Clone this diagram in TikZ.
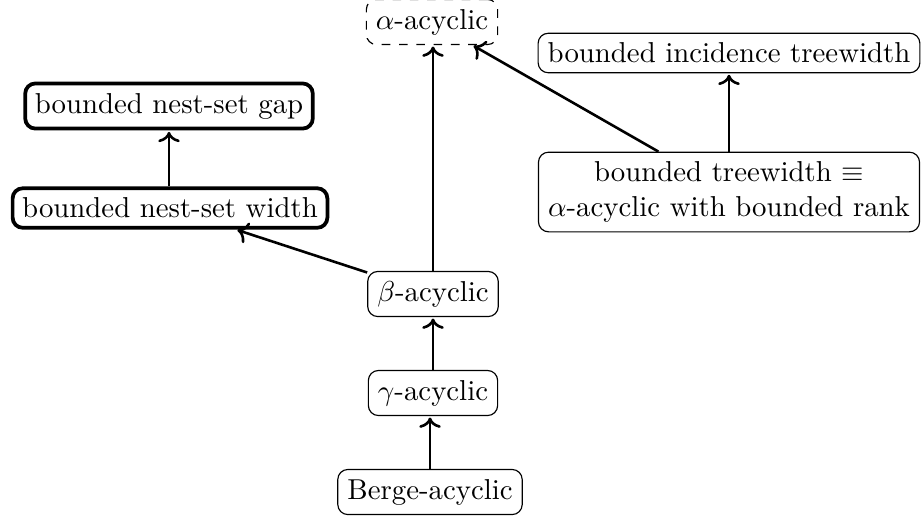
\documentclass[tikz,border=0pt]{standalone}
\usetikzlibrary{arrows.meta}
\begin{document}
\begin{tikzpicture}[x=0.3472pt,y=-0.3472pt,
  cls/.style={draw,rounded corners=3.5pt,inner sep=3.33pt,line width=0.4pt},
  thickcls/.style={cls,line width=1.3pt},
  dashcls/.style={cls,dashed},
  imp/.style={->,line width=0.9pt,shorten >=0.5pt}]
\useasboundingbox (0,0) rectangle (922,518);
\node[dashcls] (alpha) at (432,22) {$\alpha$-acyclic};
\node[cls] (inc) at (729,53) {bounded incidence treewidth};
\node[thickcls] (gap) at (169,106) {bounded nest-set gap};
\node[thickcls] (nsw) at (170,208) {bounded nest-set width};
\node[cls,align=center] (tw) at (729,192) {bounded treewidth $\equiv$\\$\alpha$-acyclic with bounded rank};
\node[cls] (beta) at (433,294) {$\beta$-acyclic};
\node[cls] (gamma) at (433,393) {$\gamma$-acyclic};
\node[cls] (berge) at (430,492) {Berge-acyclic};
\draw[imp] (berge) -- (berge.north |- gamma.south);
\draw[imp] (gamma) -- (beta);
\draw[imp] (beta) -- (beta.north |- alpha.south);
\draw[imp] (beta) -- (nsw);
\draw[imp] (nsw.north -| gap.south) -- (gap);
\draw[imp] (tw) -- (inc);
\draw[imp] (tw) -- (alpha);
\end{tikzpicture}
\end{document}
